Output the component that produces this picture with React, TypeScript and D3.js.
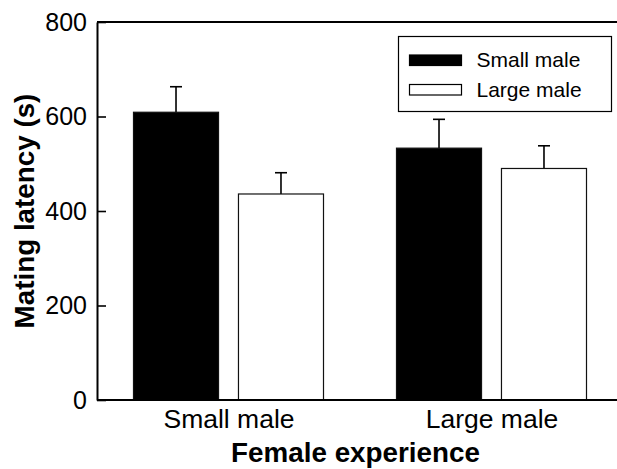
import { useEffect, useRef } from 'react'
import * as d3 from 'd3'

const groups = ['Small male', 'Large male']
const seriesNames = ['Small male', 'Large male']
const seriesColors = ['#000000', '#ffffff']
const smallMaleMeans = [609, 533]
const smallMaleErrors = [54, 61]
const largeMaleMeans = [436, 490]
const largeMaleErrors = [45, 48]
const yTicks = [0, 200, 400, 600, 800]

const width = 617
const height = 469
const margin = { top: 22, right: -6, bottom: 69, left: 97 }
const font = '"Liberation Sans", Arial, Helvetica, sans-serif'

export default function App() {
  const svgRef = useRef<SVGSVGElement>(null)

  useEffect(() => {
    const svg = d3.select(svgRef.current)
    svg.selectAll('*').remove()

    const x0 = margin.left
    const x1 = width - margin.right
    const y0 = height - margin.bottom

    const yScale = d3.scaleLinear().domain([0, 800]).range([y0, margin.top])
    const groupScale = d3.scalePoint<string>().domain(groups).range([x0, x1]).padding(0.5)
    const barScale = d3.scaleBand<string>().domain(seriesNames).range([-95, 95]).paddingInner(0.19)

    const rows = groups.flatMap((g, i) => [
      { group: g, series: seriesNames[0], value: smallMaleMeans[i], err: smallMaleErrors[i], color: seriesColors[0] },
      { group: g, series: seriesNames[1], value: largeMaleMeans[i], err: largeMaleErrors[i], color: seriesColors[1] },
    ])

    const bx = (d: any) => (groupScale(d.group) as number) + (barScale(d.series) as number)
    const bw = barScale.bandwidth()

    // error bars (upper only)
    const eb = svg.append('g')
    eb.selectAll('line.stem')
      .data(rows)
      .join('line')
      .attr('x1', d => bx(d) + bw / 2)
      .attr('x2', d => bx(d) + bw / 2)
      .attr('y1', d => yScale(d.value))
      .attr('y2', d => yScale(d.value + d.err))
      .attr('stroke', '#000')
      .attr('stroke-width', 1.6)
    eb.selectAll('line.cap')
      .data(rows)
      .join('line')
      .attr('x1', d => bx(d) + bw / 2 - 6)
      .attr('x2', d => bx(d) + bw / 2 + 6)
      .attr('y1', d => yScale(d.value + d.err))
      .attr('y2', d => yScale(d.value + d.err))
      .attr('stroke', '#000')
      .attr('stroke-width', 1.6)

    // bars
    svg.append('g')
      .selectAll('rect')
      .data(rows)
      .join('rect')
      .attr('x', d => bx(d))
      .attr('y', d => yScale(d.value))
      .attr('width', bw)
      .attr('height', d => y0 - yScale(d.value))
      .attr('fill', d => d.color)
      .attr('stroke', '#111')
      .attr('stroke-width', 1.2)

    // top border
    svg.append('line')
      .attr('x1', x0).attr('x2', width)
      .attr('y1', margin.top).attr('y2', margin.top)
      .attr('stroke', '#000').attr('stroke-width', 2)

    // y axis
    const yAxis = d3.axisLeft(yScale).tickValues(yTicks).tickSizeInner(-9).tickSizeOuter(0).tickPadding(10)
    const gy = svg.append('g').attr('transform', `translate(${x0},0)`).call(yAxis)
    gy.select('.domain').attr('stroke-width', 2)
    gy.selectAll('.tick line').attr('stroke-width', 1.6)
    gy.selectAll('.tick text')
      .attr('font-family', font)
      .attr('font-size', 25)
      .attr('fill', '#000')

    // x axis
    const xAxis = d3.axisBottom(groupScale).tickSize(0).tickPadding(9)
    const gx = svg.append('g').attr('transform', `translate(0,${y0})`).call(xAxis)
    gx.select('.domain').attr('d', `M${x0},0H${width}`).attr('stroke-width', 2)
    gx.selectAll('.tick text')
      .attr('font-family', font)
      .attr('font-size', 26.5)
      .attr('fill', '#000')
      .attr('dy', '0.72em')

    // axis titles
    svg.append('text')
      .attr('x', 355.5)
      .attr('y', 462)
      .attr('text-anchor', 'middle')
      .attr('font-family', font)
      .attr('font-weight', 'bold')
      .attr('font-size', 27.8)
      .text('Female experience')
    svg.append('text')
      .attr('transform', `translate(34,${(y0 + margin.top) / 2}) rotate(-90)`)
      .attr('text-anchor', 'middle')
      .attr('font-family', font)
      .attr('font-weight', 'bold')
      .attr('font-size', 27.8)
      .text('Mating latency (s)')

    // legend
    const lg = svg.append('g').attr('transform', 'translate(398.5,36.5)')
    lg.append('rect')
      .attr('width', 213).attr('height', 75)
      .attr('fill', '#fff').attr('stroke', '#000').attr('stroke-width', 1.2)
    seriesNames.forEach((name, i) => {
      lg.append('rect')
        .attr('x', 11).attr('y', 18.5 + i * 29.5)
        .attr('width', 52).attr('height', 10.5)
        .attr('fill', seriesColors[i]).attr('stroke', '#000').attr('stroke-width', 1.2)
      lg.append('text')
        .attr('x', 78).attr('y', 30.5 + i * 29.5)
        .attr('font-family', font)
        .attr('font-size', 21)
        .text(name)
    })
  }, [])

  return (
    <svg ref={svgRef} width={width} height={height}
      style={{ position: 'absolute', left: 0, top: 0, background: '#fff' }} />
  )
}
